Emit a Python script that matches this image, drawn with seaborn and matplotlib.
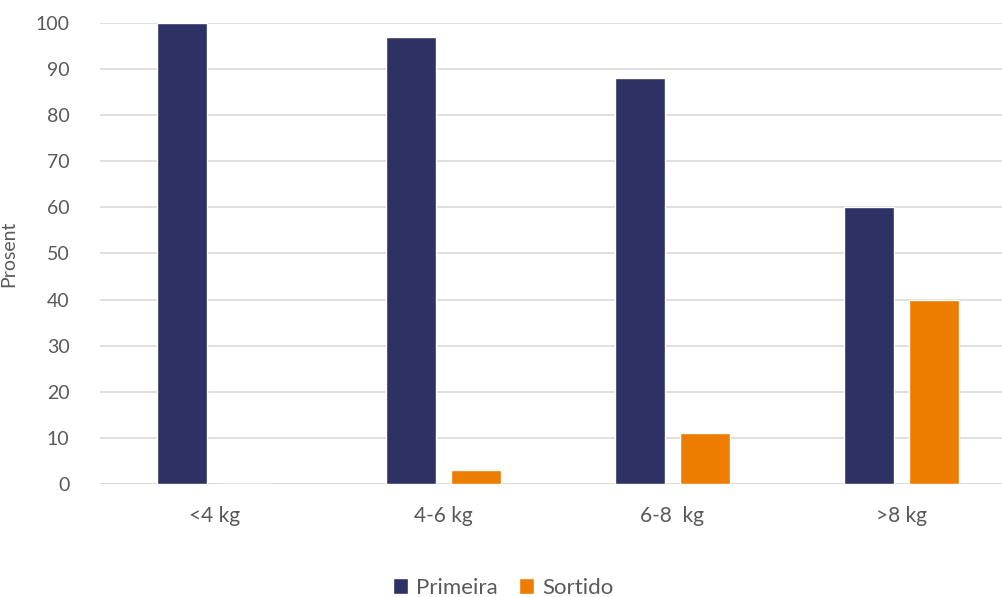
import pandas as pd
import matplotlib.pyplot as plt
import seaborn as sns

categories = ['<4 kg', '4-6 kg', '6-8  kg', '>8 kg']
primeira = [100, 97, 88, 60]
sortido = [0, 3, 11, 40]
series = ['Primeira', 'Sortido']
colors = ['#2E3164', '#ED7D00']

df = pd.DataFrame({
    'kat': categories * 2,
    'verdi': primeira + sortido,
    'serie': [series[0]] * 4 + [series[1]] * 4,
})

sns.set_style('white')
plt.rcParams['font.family'] = ['Lato', 'DejaVu Sans']
txt = '#595959'

fig = plt.figure(figsize=(10.03, 5.97), dpi=100)
ax = fig.add_axes([100 / 1003, 1 - 484 / 597, 916 / 1003, 461 / 597])

sns.barplot(data=df, x='kat', y='verdi', hue='serie', palette=colors,
            width=0.568, gap=0.23, ax=ax, saturation=1)

ax.set_ylim(0, 100)
ax.set_yticks(range(0, 101, 10))
ax.yaxis.grid(True, color='#D9D9D9', linewidth=1.2)
ax.set_axisbelow(True)
for s in ax.spines.values():
    s.set_visible(False)
ax.axhline(0, color='#D9D9D9', linewidth=1.2, zorder=0)
ax.tick_params(axis='y', length=0, labelsize=14, colors=txt, pad=22)
ax.tick_params(axis='x', length=0, labelsize=15, colors=txt, pad=16)
ax.set_xlabel('')
ax.set_ylabel('Prosent', fontsize=14, color=txt)
ax.yaxis.set_label_coords(-83 / 916, 0.5)

# legend under the plot, centred on the figure
handles, labels = ax.get_legend_handles_labels()
ax.get_legend().remove()
fig.legend(handles, labels, loc='center', bbox_to_anchor=(503 / 1003, 1 - 588 / 597),
           ncol=2, frameon=False, fontsize=16, labelcolor=txt,
           handlelength=0.7, handleheight=0.7, handletextpad=0.35, columnspacing=0.95)

fig.savefig('out.png', dpi=100)
